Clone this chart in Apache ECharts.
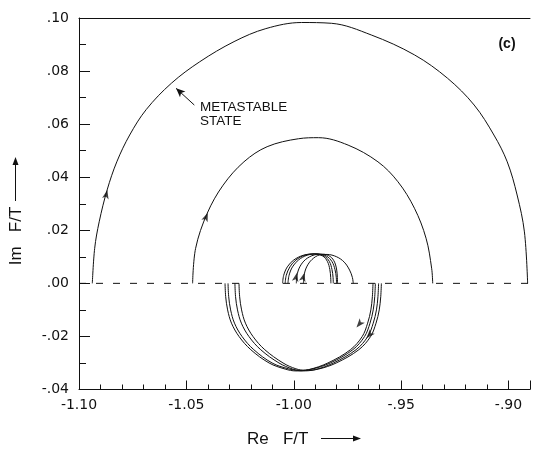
<!DOCTYPE html>
<html><head><meta charset="utf-8">
<script src="https://cdn.jsdelivr.net/npm/echarts@6/dist/echarts.min.js"></script>
<style>html,body{margin:0;padding:0;background:#fff}#c{width:533px;height:453px}</style>
</head><body><div id="c"></div>
<script>
const xTickValues = [-1.10, -1.05, -1.00, -0.95, -0.90];
const xTickLabels = ['-1.10', '-1.05', '-1.00', '-.95', '-.90'];
const yTickValues = [-0.04, -0.02, 0, 0.02, 0.04, 0.06, 0.08, 0.10];
const yTickLabels = ['-.04', '-.02', '.00', '.02', '.04', '.06', '.08', '.10'];

const realAxis = [[-1.10, 0], [-0.89, 0]];

const outerArc = [[-1.0938,0],[-1.0927,0.0132],[-1.0906,0.0232],[-1.0869,0.0352],[-1.0824,0.0458],[-1.0764,0.0559],[-1.0687,0.0655],[-1.0570,0.0754],[-1.0438,0.0835],[-1.0278,0.0911],[-1.0130,0.0960],[-0.9964,0.0983],[-0.9824,0.0980],[-0.9639,0.0936],[-0.9438,0.0861],[-0.9284,0.0773],[-0.9160,0.0672],[-0.9068,0.0559],[-0.9006,0.0458],[-0.8960,0.0333],[-0.8926,0.0194],[-0.8911,0]];

const innerArc = [[-1.0471,0],[-1.0457,0.0132],[-1.0403,0.0264],[-1.0329,0.0370],[-1.0232,0.0458],[-1.0124,0.0515],[-0.9978,0.0545],[-0.9885,0.0549],[-0.9747,0.0521],[-0.9608,0.0458],[-0.9515,0.0383],[-0.9438,0.0283],[-0.9384,0.0170],[-0.9358,0.0057],[-0.9353,0]];

const upperLoop1 = [[-1.0052,0],[-1.0047,0.003],[-1.0030,0.0062],[-1.0000,0.0088],[-0.9955,0.0106],[-0.9905,0.0111],[-0.9865,0.0103],[-0.9843,0.0082],[-0.9832,0.0052],[-0.9828,0.0022],[-0.9827,0]];
const upperLoop2 = [[-1.0040,0],[-1.0035,0.003],[-1.0018,0.0062],[-0.9990,0.0088],[-0.9948,0.0106],[-0.9900,0.0111],[-0.9858,0.0103],[-0.9834,0.0082],[-0.9822,0.0052],[-0.9817,0.0022],[-0.9816,0]];
const upperLoop3 = [[-1.0027,0],[-1.0022,0.003],[-1.0006,0.0062],[-0.9978,0.0088],[-0.9938,0.0106],[-0.9892,0.0111],[-0.9848,0.0103],[-0.9822,0.0082],[-0.9808,0.0052],[-0.9802,0.0022],[-0.9801,0]];
const upperLoop4 = [[-0.9988,0],[-0.9985,0.003],[-0.9972,0.0062],[-0.9945,0.0090],[-0.9905,0.0107],[-0.9865,0.0110],[-0.9830,0.0101],[-0.9810,0.0080],[-0.9800,0.0050],[-0.9797,0.0022],[-0.9796,0]];
const upperLoop5 = [[-0.9955,0],[-0.9952,0.003],[-0.9940,0.0062],[-0.9915,0.0090],[-0.9880,0.0107],[-0.9845,0.0109],[-0.9800,0.0100],[-0.9765,0.0080],[-0.9740,0.0050],[-0.9727,0.0022],[-0.9723,0]];

const lowerLoop1 = [[-1.0320,0],[-1.0317,-0.005],[-1.0308,-0.010],[-1.0290,-0.015],[-1.0255,-0.020],[-1.0200,-0.025],[-1.0115,-0.030],[-1.0040,-0.0323],[-0.9990,-0.0330],[-0.9930,-0.0325],[-0.9841,-0.030],[-0.9736,-0.025],[-0.9681,-0.020],[-0.9656,-0.015],[-0.9641,-0.010],[-0.9634,-0.005],[-0.9631,0]];
const lowerLoop2 = [[-1.0306,0],[-1.0303,-0.005],[-1.0294,-0.010],[-1.0276,-0.015],[-1.0241,-0.020],[-1.0186,-0.025],[-1.0101,-0.030],[-1.0025,-0.0322],[-0.9975,-0.0328],[-0.9915,-0.0323],[-0.9830,-0.030],[-0.9725,-0.025],[-0.9670,-0.020],[-0.9645,-0.015],[-0.9630,-0.010],[-0.9623,-0.005],[-0.9620,0]];
const lowerLoop3 = [[-1.0274,0],[-1.0271,-0.005],[-1.0262,-0.010],[-1.0244,-0.015],[-1.0209,-0.020],[-1.0154,-0.025],[-1.0069,-0.030],[-1.0005,-0.0323],[-0.9960,-0.0330],[-0.9900,-0.0325],[-0.9815,-0.030],[-0.9710,-0.025],[-0.9655,-0.020],[-0.9630,-0.015],[-0.9615,-0.010],[-0.9608,-0.005],[-0.9605,0]];
const lowerLoop4 = [[-1.0255,0],[-1.0252,-0.005],[-1.0243,-0.010],[-1.0225,-0.015],[-1.0190,-0.020],[-1.0135,-0.025],[-1.0050,-0.030],[-0.9990,-0.0322],[-0.9945,-0.0328],[-0.9885,-0.0323],[-0.9802,-0.030],[-0.9697,-0.025],[-0.9642,-0.020],[-0.9617,-0.015],[-0.9602,-0.010],[-0.9595,-0.005],[-0.9592,0]];

// [x, y, rotation in degrees] of the direction arrowheads
const arrowMarks = [[-1.0868,0.0352,-13],[-1.0400,0.0266,-22],[-0.9985,0.0040,-12],[-0.9950,0.0040,-15],[-0.9708,-0.0166,140],[-0.9662,-0.0207,138]];
const metastableArrow = [[-1.0463,0.0672],[-1.0548,0.0735]];

const INK = '#111';
function lineSeries(data, extra) {
  return Object.assign({
    type: 'line', data: data, showSymbol: false, symbol: 'none', smooth: 0.35,
    lineStyle: { color: INK, width: 1 }, silent: true, z: 3
  }, extra || {});
}
function labelFor(values, labels, v) {
  for (let i = 0; i < values.length; i++) if (Math.abs(v - values[i]) < 1e-6) return labels[i];
  return '';
}

const chart = echarts.init(document.getElementById('c'), null, { renderer: 'canvas' });
const loops = [upperLoop1, upperLoop2, upperLoop3, upperLoop4, upperLoop5, lowerLoop1, lowerLoop2, lowerLoop3, lowerLoop4];
const series = [
  lineSeries(realAxis, { smooth: false, z: 2, lineStyle: { color: INK, width: 1, type: [7, 10] } }),
  lineSeries(outerArc, {
    markLine: {
      silent: true, symbol: ['none', 'arrow'], symbolSize: [6, 9],
      label: { show: false }, lineStyle: { color: INK, width: 1, type: 'solid' },
      data: [[{ coord: metastableArrow[0] }, { coord: metastableArrow[1] }]]
    }
  }),
  lineSeries(innerArc)
].concat(loops.map(l => lineSeries(l))).concat([{
  type: 'scatter', silent: true, z: 5, symbol: 'arrow', symbolSize: [5, 9],
  itemStyle: { color: INK },
  data: arrowMarks.map(a => ({ value: [a[0], a[1]], symbolRotate: a[2] }))
}]);

chart.setOption({
  animation: false,
  backgroundColor: '#fff',
  grid: { left: 79, right: 0, top: 18, bottom: 63.5, containLabel: false },
  xAxis: [{
    type: 'value', min: -1.10, max: -0.89, interval: 0.05, position: 'bottom',
    axisLine: { show: true, onZero: false, lineStyle: { color: INK, width: 1 } },
    axisTick: { show: true, inside: true, length: 9, lineStyle: { color: INK } },
    minorTick: { show: true, splitNumber: 5, length: 5, lineStyle: { color: INK } },
    splitLine: { show: false }, minorSplitLine: { show: false },
    axisLabel: { margin: 9, color: INK, fontFamily: 'DejaVu Sans', fontSize: 14,
      formatter: v => labelFor(xTickValues, xTickLabels, v) }
  }, {
    type: 'value', min: -1.10, max: -0.89, position: 'top',
    axisLine: { show: true, onZero: false, lineStyle: { color: INK, width: 1 } },
    axisTick: { show: false }, axisLabel: { show: false }, splitLine: { show: false }
  }],
  yAxis: {
    type: 'value', min: -0.04, max: 0.10, interval: 0.02,
    axisLine: { show: true, onZero: false, lineStyle: { color: INK, width: 1 } },
    axisTick: { show: true, inside: true, length: 11, lineStyle: { color: INK } },
    minorTick: { show: true, splitNumber: 2, length: 7, lineStyle: { color: INK } },
    splitLine: { show: false },
    axisLabel: { margin: 10, color: INK, fontFamily: 'DejaVu Sans', fontSize: 14,
      formatter: v => labelFor(yTickValues, yTickLabels, v) }
  },
  graphic: [
    { type: 'text', x: 507, y: 44, style: { text: '(c)', font: 'bold 14px "Liberation Sans", Arial', fill: INK, align: 'center', verticalAlign: 'middle' } },
    { type: 'text', x: 200, y: 101, style: { text: 'METASTABLE\nSTATE', font: '13.5px "Liberation Sans", Arial', lineHeight: 13.5, fill: INK, align: 'left', verticalAlign: 'top' } },
    { type: 'text', x: 247, y: 439, style: { text: 'Re   F/T', font: '17px "Liberation Sans", Arial', fill: INK, align: 'left', verticalAlign: 'middle' } },
    { type: 'line', shape: { x1: 321, y1: 438.5, x2: 356, y2: 438.5 }, style: { stroke: INK, lineWidth: 1 } },
    { type: 'polygon', shape: { points: [[353, 435.5], [361, 438.5], [353, 441.5]] }, style: { fill: INK } },
    { type: 'text', x: 16, y: 236, rotation: Math.PI / 2, style: { text: 'Im   F/T', font: '17px "Liberation Sans", Arial', fill: INK, align: 'center', verticalAlign: 'middle' } },
    { type: 'line', shape: { x1: 15.5, y1: 201, x2: 15.5, y2: 162 }, style: { stroke: INK, lineWidth: 1 } },
    { type: 'polygon', shape: { points: [[12.5, 165], [15.5, 157], [18.5, 165]] }, style: { fill: INK } }
  ],
  series: series
});
</script>
</body></html>
